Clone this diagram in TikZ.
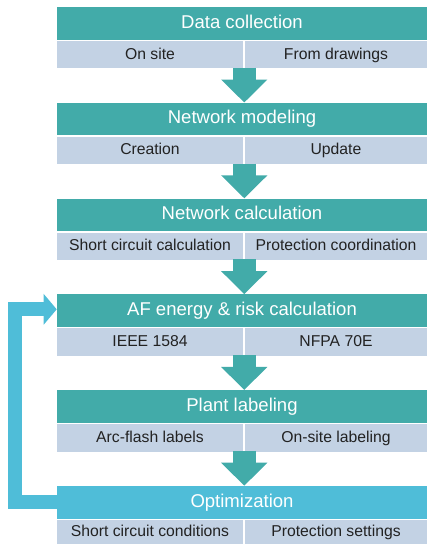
\documentclass[tikz,border=0pt]{standalone}
\usepackage{fontspec}
\setmainfont{Liberation Sans}
\usetikzlibrary{arrows.meta}

\definecolor{stepteal}{RGB}{66,171,169}
\definecolor{stepblue}{RGB}{79,189,216}
\definecolor{partgray}{RGB}{195,210,228}
\definecolor{parttext}{RGB}{34,34,34}

\tikzset{
  head/.style={fill=stepteal, text=white, inner sep=0pt, minimum width=277.5pt, minimum height=24.4pt, text height=0.716em, text depth=0pt, font=\fontsize{13.9}{16}\selectfont},
  part/.style={fill=partgray, text=parttext, inner sep=0pt, minimum height=20.6pt, text height=0.716em, text depth=0.05em, font=\fontsize{11.8}{14}\selectfont},
  leftpart/.style={part, minimum width=139.5pt},
  rightpart/.style={part, minimum width=136.5pt},
  flow/.style={draw=stepteal, line width=17.25pt, -{Triangle[width=33.75pt,length=17.25pt]}},
  loopback/.style={draw=stepblue, line width=10.5pt, line join=miter, -{Triangle[width=22.5pt,length=9.75pt]}},
}

\begin{document}
\begin{tikzpicture}[x=0.75pt,y=0.75pt,yscale=-1]
\useasboundingbox (0,0) rectangle (428,544);

% Data collection
\node [head] (h1) at (242,23.25) {Data collection};
\node [leftpart] (a1) at (150,54.75) {On site};
\node [rightpart] (b1) at (336,54.75) {From drawings};

% Network modeling
\node [head] (h2) at (242,119.05) {Network modeling};
\node [leftpart] (a2) at (150,150.55) {Creation};
\node [rightpart] (b2) at (336,150.55) {Update};

% Network calculation
\node [head] (h3) at (242,214.85) {Network calculation};
\node [leftpart] (a3) at (150,246.35) {Short circuit calculation};
\node [rightpart] (b3) at (336,246.35) {Protection coordination};

% AF energy
\node [head] (h4) at (242,310.65) {AF energy \& risk calculation};
\node [leftpart] (a4) at (150,342.15) {IEEE 1584};
\node [rightpart] (b4) at (336,342.15) {NFPA 70E};

% Plant labeling
\node [head] (h5) at (242,406.45) {Plant labeling};
\node [leftpart] (a5) at (150,437.95) {Arc-flash labels};
\node [rightpart] (b5) at (336,437.95) {On-site labeling};

% Optimization
\node [head, fill=stepblue] (h6) at (242,502.25) {Optimization};
\node [leftpart, minimum height=18pt] (a6) at (150,532) {Short circuit conditions};
\node [rightpart, minimum height=18pt] (b6) at (336,532) {Protection settings};

% block arrows
\draw [flow] ([xshift=0.75pt,yshift=-0.75pt]a1.south east) -- ([xshift=0.75pt]a1.south east |- h2.north);
\draw [flow] ([xshift=0.75pt,yshift=-0.75pt]a2.south east) -- ([xshift=0.75pt]a2.south east |- h3.north);
\draw [flow] ([xshift=0.75pt,yshift=-0.75pt]a3.south east) -- ([xshift=0.75pt]a3.south east |- h4.north);
\draw [flow] ([xshift=0.75pt,yshift=-0.75pt]a4.south east) -- ([xshift=0.75pt]a4.south east |- h5.north);
\draw [flow] ([xshift=0.75pt,yshift=-0.75pt]a5.south east) -- ([xshift=0.75pt]a5.south east |- h6.north);

% loop back
\draw [loopback] (h6.west) -- ++(-42,0) |- ([yshift=-1pt]h4.west);

\end{tikzpicture}
\end{document}
